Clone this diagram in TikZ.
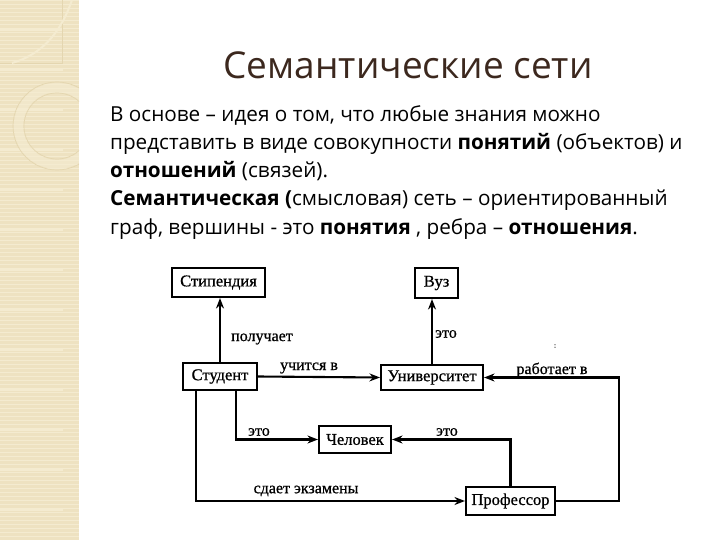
\documentclass[tikz,border=0pt]{standalone}
\usepackage{fontspec}
\setmainfont{Open Sans}
\newfontfamily\diagfont[FakeBold=0.8]{Liberation Serif}
\usetikzlibrary{arrows.meta,calc}
\definecolor{strip}{RGB}{238,226,193}
\definecolor{stripl}{RGB}{244,235,208}
\definecolor{stripd}{RGB}{228,214,176}
\definecolor{titlec}{RGB}{60,40,30}
\begin{document}
\begin{tikzpicture}[x=1pt,y=-1pt,
  box/.style={draw, line width=2.1pt, inner sep=0pt, fill=white, font=\diagfont\fontsize{16.5}{18}\selectfont},
  con/.style={line width=2.1pt},
  arr/.style={con, -{Stealth[length=10.5pt,width=8pt]}},
  lbl/.style={inner sep=0pt, font=\diagfont\fontsize{16}{18}\selectfont},
  body/.style={inner sep=0pt, anchor=base west, font=\fontsize{20.7}{24}\selectfont}]
\useasboundingbox (0,0) rectangle (720,540);
% decorative strip
\fill[strip] (0,0) rectangle (79,540);
\foreach \y in {0,4,...,540} {\draw[stripl, line width=0.6pt] (0,\y) -- (79,\y);}
\foreach \y in {30,70,...,540} {\draw[stripl, line width=1.5pt] (0,\y) -- (63,\y);}
\begin{scope}
\clip (0,0) rectangle (79,540);
\draw[stripd, line width=0.8pt] (0,63) -- (62,63) -- (62,0);
\draw[stripl, line width=2pt] (72,0) .. controls (60,35) and (40,55) .. (12,63);
\draw[stripl, line width=9pt, opacity=0.6] (57,126) circle (38.5);
\draw[stripd, line width=0.7pt] (57,126) circle (44);
\draw[stripd, line width=0.7pt] (57,126) circle (33);
\end{scope}
% title
\node[inner sep=0pt, anchor=base, text=titlec, font=\fontsize{37}{42}\selectfont] (title) at (408,79) {Семантические сети};
% body text
\node[body] (l1) at (110,122) {В основе – идея о том, что любые знания можно};
\node[body] (l2) at (110,150) {представить в виде совокупности \textbf{понятий} (объектов) и};
\node[body] (l3) at (110,178) {\textbf{отношений} (связей).};
\node[body] (l4) at (110,206) {\textbf{Семантическая (}смысловая) сеть – ориентированный};
\node[body] (l5) at (110,234) {граф, вершины - это \textbf{понятия} , ребра – \textbf{отношения}.};
% diagram nodes
\node[box, minimum width=93pt, minimum height=29pt] (stip) at (218.5,282.5) {Стипендия};
\node[box, minimum width=43pt, minimum height=30pt] (vuz) at (436.5,283) {Вуз};
\node[box, minimum width=74pt, minimum height=27pt] (stud) at (220,376.5) {Студент};
\node[box, minimum width=102pt, minimum height=25pt] (univ) at (432,377.5) {Университет};
\node[box, minimum width=72pt, minimum height=27pt] (chel) at (355,439.5) {Человек};
\node[box, minimum width=89pt, minimum height=28pt] (prof) at (510.5,501) {Профессор};
% connectors
\draw[arr] (stud.north) -- (stud.north |- stip.south);
\draw[arr] (univ.north) -- (univ.north |- vuz.south);
\draw[arr] (stud.east) -- (univ.west);
\draw[arr] ([xshift=-22pt]stud.south east) |- (chel.west);
\draw[arr] ([xshift=14pt]stud.south west) |- (prof.west);
\draw[arr] (prof.north) |- (chel.east);
\coordinate (rc) at ($(prof.east)+(63,0)$);
\draw[arr] (prof.east) -- (rc) |- (univ.east);
% labels
\node[lbl, anchor=west] (lpol) at (231,339) {получает};
\node[lbl] (luch) at (309,368) {учится в};
\node[lbl, anchor=west] (leto1) at (435,334) {это};
\node[lbl] (lrab) at (552,370) {работает в};
\node[lbl] (leto2) at (259,432) {это};
\node[lbl] (leto3) at (447,432) {это};
\node[lbl] (lsd) at (306,491) {сдает экзамены};
\node[inner sep=0pt, font=\diagfont\fontsize{7}{8}\selectfont] (dot) at (555,346) {:};
\end{tikzpicture}
\end{document}
